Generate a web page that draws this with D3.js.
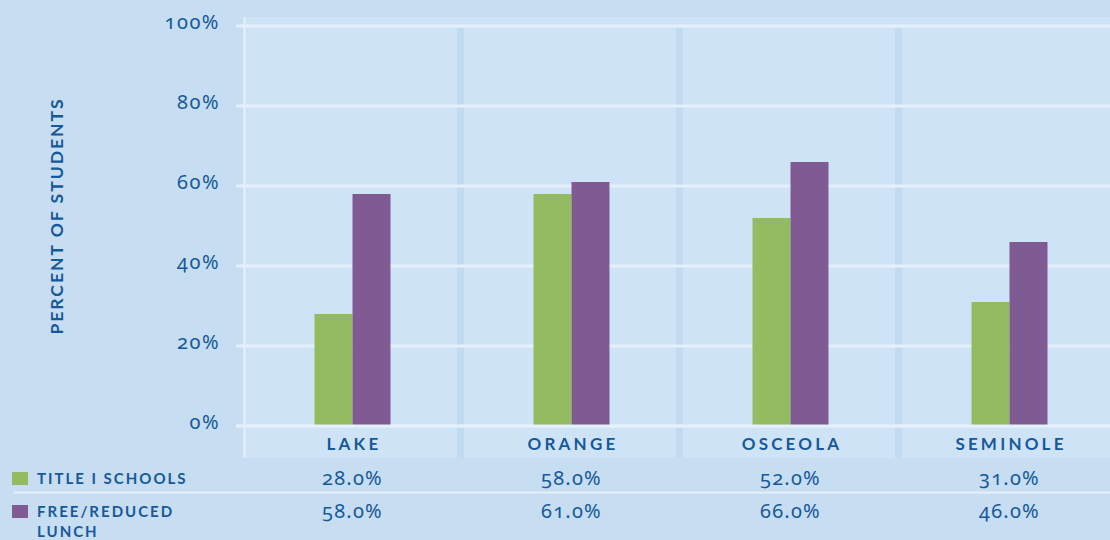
<!DOCTYPE html>
<html><head><meta charset="utf-8">
<script src="https://cdn.jsdelivr.net/npm/d3@7"></script>
<style>
html,body{margin:0;padding:0;background:#c6ddf2;}
svg{display:block;}
text{font-family:"Lato","Open Sans",sans-serif;fill:#16599a;}
text.num{font-family:"Noto Sans","Lato",sans-serif;font-variant-numeric:oldstyle-nums;font-feature-settings:"onum" 1;}
</style></head>
<body>
<svg id="chart" width="1110" height="540"></svg>
<script>
const categories = ["LAKE", "ORANGE", "OSCEOLA", "SEMINOLE"];
const seriesNames = ["TITLE I SCHOOLS", "FREE/REDUCED LUNCH"];
const titleI = [28.0, 58.0, 52.0, 31.0];
const freeReduced = [58.0, 61.0, 66.0, 46.0];
const yTicks = [0, 20, 40, 60, 80, 100];
const colors = ["#93bb60", "#7f5a93"];

const series = [titleI, freeReduced];
const svg = d3.select("#chart");
const W = 1110, H = 540;
const plot = {left: 243, right: 1119, top: 26, bottom: 426};

const x = d3.scaleBand().domain(categories).range([plot.left, plot.right]);
const xs = d3.scaleBand().domain([0, 1]).range([0, 76]);
const y = d3.scaleLinear().domain([0, 100]).range([plot.bottom, plot.top]);

svg.append("rect").attr("x", plot.left).attr("y", 17).attr("width", W - plot.left).attr("height", 441).attr("fill", "#cfe3f6");
categories.slice(1).forEach(c => {
  svg.append("rect").attr("x", x(c) - 5).attr("y", 28).attr("width", 7).attr("height", 430).attr("fill", "#c3dbf0");
});
yTicks.forEach(t => {
  svg.append("line").attr("x1", 236).attr("x2", W).attr("y1", y(t)).attr("y2", y(t))
    .attr("stroke", "#e4f0fb").attr("stroke-width", 3);
});
svg.append("line").attr("x1", 244.5).attr("x2", 244.5).attr("y1", 17).attr("y2", 458).attr("stroke", "#e4f0fb").attr("stroke-width", 2);

svg.selectAll(".ytick").data(yTicks).join("text").attr("class", "num")
  .attr("x", 220).attr("y", d => y(d) + 3).attr("text-anchor", "end")
  .attr("font-size", 20).attr("letter-spacing", 1.5).text(d => d + "%");

svg.append("text").attr("transform", "translate(63,216) rotate(-90)").attr("text-anchor", "middle")
  .attr("font-size", 17.5).attr("font-weight", "bold").attr("letter-spacing", 2).text("PERCENT OF STUDENTS");

const g = svg.append("g");
categories.forEach((c, i) => {
  series.forEach((s, j) => {
    const cx = x(c) + x.bandwidth() / 2 - 38;
    g.append("rect").attr("x", cx + xs(j)).attr("y", y(s[i])).attr("width", xs.bandwidth())
      .attr("height", y(0) - y(s[i])).attr("fill", colors[j]);
  });
});
svg.append("line").attr("x1", 236).attr("x2", W).attr("y1", y(0)).attr("y2", y(0)).attr("stroke", "#e4f0fb").attr("stroke-width", 3);

svg.selectAll(".cat").data(categories).join("text")
  .attr("x", d => x(d) + x.bandwidth() / 2 + 1.5).attr("y", 450).attr("text-anchor", "middle")
  .attr("font-size", 17).attr("font-weight", "bold").attr("letter-spacing", 3.2).text(d => d);

svg.append("line").attr("x1", 14).attr("x2", W).attr("y1", 492.5).attr("y2", 492.5).attr("stroke", "#e4f0fb").attr("stroke-width", 2);

const rowY = [484, 517];
series.forEach((s, j) => {
  svg.append("rect").attr("x", 12).attr("y", rowY[j] - 12).attr("width", 16).attr("height", 13).attr("fill", colors[j]);
  const lbl = svg.append("text").attr("x", 37).attr("y", rowY[j]).attr("font-size", 15).attr("font-weight", "bold").attr("letter-spacing", 2);
  const words = j === 1 ? ["FREE/REDUCED", "LUNCH"] : [seriesNames[j]];
  words.forEach((w, k) => lbl.append("tspan").attr("x", 37).attr("dy", k === 0 ? 0 : 20).text(w));
  svg.selectAll(".v" + j).data(categories).join("text").attr("class", "num")
    .attr("x", d => x(d) + x.bandwidth() / 2).attr("y", rowY[j] + 1).attr("text-anchor", "middle")
    .attr("font-size", 20).attr("letter-spacing", 1.2).text((d, i) => s[i].toFixed(1) + "%");
});
</script>
</body></html>
